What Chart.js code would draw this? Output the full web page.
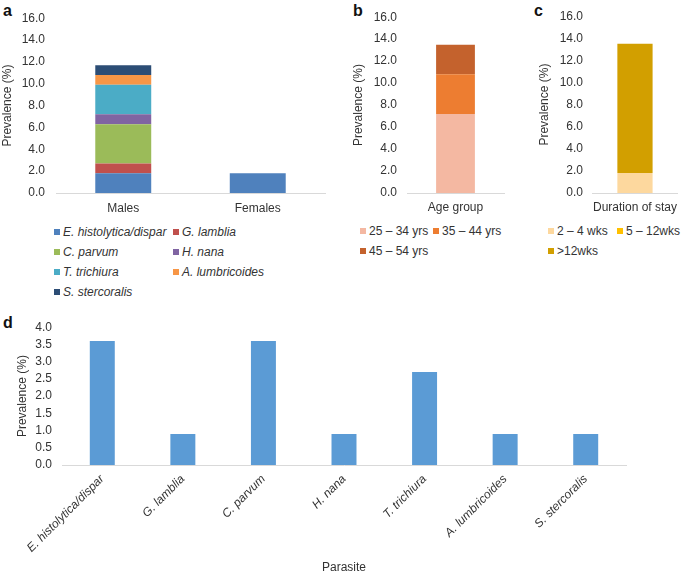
<!DOCTYPE html>
<html>
<head>
<meta charset="utf-8">
<script src="https://cdn.jsdelivr.net/npm/chart.js@4.4.1/dist/chart.umd.min.js"></script>
<style>
  html, body { margin: 0; padding: 0; background: #ffffff; }
  body { width: 685px; height: 576px; position: relative; overflow: hidden;
         font-family: "Liberation Sans", Arial, sans-serif; color: #333; }
  canvas { position: absolute; display: block; }
  .panel { position: absolute; font-weight: bold; font-size: 16px; line-height: 16px; color: #111; }
  .lg { position: absolute; height: 14px; display: flex; align-items: center; white-space: nowrap;
        font-size: 12px; color: #333; }
  .lg i.m { display: inline-block; width: 6px; height: 6px; margin-right: 3px; }
  .lg span.it { font-style: italic; }
</style>
</head>
<body>
<div class="panel" style="left:3px;top:3px;">a</div>
<div class="panel" style="left:353px;top:3px;">b</div>
<div class="panel" style="left:534px;top:3px;">c</div>
<div class="panel" style="left:3px;top:315px;">d</div>

<canvas id="chartA" width="330" height="220" style="left:0;top:0;"></canvas>
<canvas id="chartB" width="160" height="220" style="left:350px;top:0;"></canvas>
<canvas id="chartC" width="148" height="220" style="left:537px;top:0;"></canvas>
<canvas id="chartD" width="685" height="266" style="left:0;top:310px;"></canvas>
<div id="legends"></div>

<script>
// ---------------- DATA ----------------
const sexCategories = ['Males', 'Females'];
const parasites = ['E. histolytica/dispar', 'G. lamblia', 'C. parvum', 'H. nana',
                   'T. trichiura', 'A. lumbricoides', 'S. stercoralis'];
const malesByParasite   = [1.8, 0.9, 3.6, 0.9, 2.7, 0.9, 0.9];
const femalesByParasite = [1.8, 0, 0, 0, 0, 0, 0];

const ageCategory = ['Age group'];
const ageGroups = ['25 – 34 yrs', '35 – 44 yrs', '45 – 54 yrs'];
const ageValues = [7.2, 3.6, 2.7];

const stayCategory = ['Duration of stay'];
const stayGroups = ['2 – 4 wks', '5 – 12wks', '>12wks'];
const stayValues = [1.8, 0, 11.7];

const overallByParasite = [3.6, 0.9, 3.6, 0.9, 2.7, 0.9, 0.9];

const yTitle = 'Prevalence (%)';
const xTitleD = 'Parasite';

// ---------------- STYLE ----------------
const parasiteColors = ['#4F81BD', '#C0504D', '#9BBB59', '#8064A2', '#4BACC6', '#F79646', '#2C4D75'];
const ageColors = ['#F4B8A2', '#ED7D31', '#C4622D'];
const stayColors = ['#FDD89E', '#FFC000', '#D29F00'];
const barColorD = '#5B9BD5';
const textColor = '#333333';
const axisLineColor = '#D9D9D9';

Chart.defaults.font.family = '"Liberation Sans", Arial, sans-serif';
Chart.defaults.font.size = 12;
Chart.defaults.color = textColor;
Chart.defaults.animation = false;

function stackedOptions(yWidth, tickPad, titlePad, rightPad, xLabelPad) {
  return {
    responsive: false,
    animation: false,
    layout: { padding: { left: 0, top: 13, right: rightPad, bottom: 0 } },
    plugins: { legend: { display: false }, tooltip: { enabled: false } },
    scales: {
      x: {
        stacked: true,
        grid: { display: false, drawTicks: false },
        border: { display: true, color: axisLineColor, width: 1 },
        ticks: { padding: xLabelPad, color: textColor, font: { size: 12 } },
        afterFit: s => { s.height = 27; }
      },
      y: {
        stacked: true,
        min: 0, max: 16,
        grid: { display: false, drawTicks: false },
        border: { display: false },
        ticks: { stepSize: 2, autoSkip: false, padding: tickPad, color: textColor,
                 callback: v => Number(v).toFixed(1) },
        title: { display: true, text: yTitle, color: textColor, font: { size: 12 },
                 padding: { top: titlePad, bottom: 0 } },
        afterFit: s => { s.width = yWidth; }
      }
    }
  };
}

// ---------------- CHART A ----------------
new Chart(document.getElementById('chartA'), {
  type: 'bar',
  data: {
    labels: sexCategories,
    datasets: parasites.map((p, i) => ({
      label: p,
      data: [malesByParasite[i], femalesByParasite[i]],
      backgroundColor: parasiteColors[i],
      borderWidth: 0,
      categoryPercentage: 1,
      barPercentage: 0.416
    }))
  },
  options: stackedOptions(56, 11, 0, 5, 8)
});

// ---------------- CHART B ----------------
new Chart(document.getElementById('chartB'), {
  type: 'bar',
  data: {
    labels: ageCategory,
    datasets: ageGroups.map((g, i) => ({
      label: g,
      data: [ageValues[i]],
      backgroundColor: ageColors[i],
      borderWidth: 0,
      categoryPercentage: 1,
      barPercentage: 0.40
    }))
  },
  options: stackedOptions(57, 10, 1.5, 6, 7)
});

// ---------------- CHART C ----------------
new Chart(document.getElementById('chartC'), {
  type: 'bar',
  data: {
    labels: stayCategory,
    datasets: stayGroups.map((g, i) => ({
      label: g,
      data: [stayValues[i]],
      backgroundColor: stayColors[i],
      borderWidth: 0,
      categoryPercentage: 1,
      barPercentage: 0.41
    }))
  },
  options: stackedOptions(55, 9, 0, 2, 7)
});

// ---------------- CHART D ----------------
new Chart(document.getElementById('chartD'), {
  type: 'bar',
  data: {
    labels: parasites,
    datasets: [{
      label: yTitle,
      data: overallByParasite,
      backgroundColor: barColorD,
      borderWidth: 0,
      categoryPercentage: 1,
      barPercentage: 0.31
    }]
  },
  options: {
    responsive: false,
    animation: false,
    layout: { padding: { left: 0, top: 13, right: 59, bottom: 0 } },
    plugins: { legend: { display: false }, tooltip: { enabled: false } },
    scales: {
      x: {
        grid: { display: false, drawTicks: false },
        border: { display: true, color: axisLineColor, width: 1 },
        ticks: { autoSkip: false, minRotation: 45, maxRotation: 45, padding: 7,
                 color: textColor, font: { size: 12, style: 'italic' } },
        title: { display: true, text: xTitleD, color: textColor, font: { size: 12 },
                 padding: { top: 0, bottom: 1 } },
        afterFit: s => { s.height = 111; }
      },
      y: {
        min: 0, max: 4,
        grid: { display: false, drawTicks: false },
        border: { display: false },
        ticks: { stepSize: 0.5, autoSkip: false, padding: 10, color: textColor,
                 callback: v => Number(v).toFixed(1) },
        title: { display: true, text: yTitle, color: textColor, font: { size: 12 },
                 padding: { top: 15, bottom: 0 } },
        afterFit: s => { s.width = 62; }
      }
    }
  }
});

// ---------------- HTML LEGENDS ----------------
function buildLegend(labels, colors, italic, colX, rowY0, rowGap) {
  const host = document.getElementById('legends');
  labels.forEach((lab, i) => {
    const col = i % colX.length;
    const row = Math.floor(i / colX.length);
    const d = document.createElement('div');
    d.className = 'lg';
    d.style.left = colX[col] + 'px';
    d.style.top = (rowY0 + row * rowGap - 7) + 'px';
    const m = document.createElement('i');
    m.className = 'm';
    m.style.background = colors[i];
    const t = document.createElement('span');
    if (italic) t.className = 'it';
    t.textContent = lab;
    d.appendChild(m);
    d.appendChild(t);
    host.appendChild(d);
  });
}
buildLegend(parasites, parasiteColors, true, [54, 173], 232, 20);
buildLegend(ageGroups, ageColors, false, [360, 433], 231, 20);
buildLegend(stayGroups, stayColors, false, [548, 617], 231, 20);
</script>
</body>
</html>
